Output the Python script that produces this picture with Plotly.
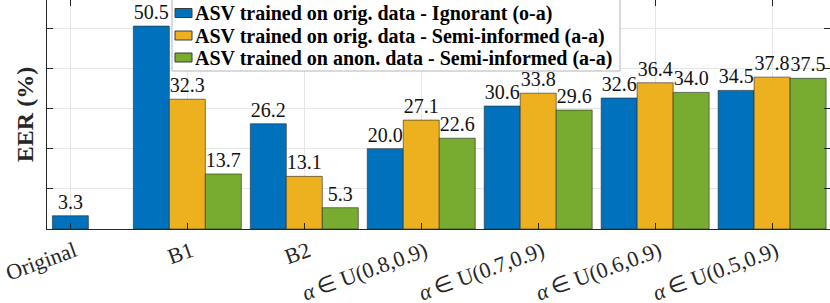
import plotly.graph_objects as go

categories = ["Original", "B1", "B2", "U(0.8,0.9)", "U(0.7,0.9)", "U(0.6,0.9)", "U(0.5,0.9)"]
ALPHA_IN = "<i>α</i>\u2009∈ "
tick_labels = ["Original", "B1", "B2",
               ALPHA_IN + "U(0.8,0.9)", ALPHA_IN + "U(0.7,0.9)",
               ALPHA_IN + "U(0.6,0.9)", ALPHA_IN + "U(0.5,0.9)"]
series_names = ["ASV trained on orig. data - Ignorant (o-a)",
                "ASV trained on orig. data - Semi-informed (a-a)",
                "ASV trained on anon. data - Semi-informed (a-a)"]
ignorant_oa = [3.3, 50.5, 26.2, 20.0, 30.6, 32.6, 34.5]
semi_orig_aa = [None, 32.3, 13.1, 27.1, 33.8, 36.4, 37.8]
semi_anon_aa = [None, 13.7, 5.3, 22.6, 29.6, 34.0, 37.5]
colors = ["#0072BD", "#EDB120", "#77AC30"]

SERIF = "Liberation Serif"
W = 0.3077
x_idx = list(range(len(categories)))
# blue bar is centred when it is the only one in its group
blue_offsets = [-0.5 * W if (semi_orig_aa[i] is None and semi_anon_aa[i] is None) else -1.5 * W
                for i in x_idx]
offsets = [blue_offsets, -0.5 * W, 0.5 * W]
EDGE = "rgba(40,40,40,0.6)"

fig = go.Figure()
for name, vals, col, off in zip(series_names, [ignorant_oa, semi_orig_aa, semi_anon_aa], colors, offsets):
    fig.add_trace(go.Bar(
        x=x_idx, y=vals, name=name, width=W, offset=off,
        marker=dict(color=col, line=dict(color=EDGE, width=1)),
        texttemplate="%{y:.1f}", textposition="outside", constraintext="none",
        textfont=dict(family=SERIF, size=20, color="#111"),
        cliponaxis=False, showlegend=False,
    ))

# legend box drawn in plot-area (paper) coordinates
PW, PH, L = 783.0, 229.0, 47.0
def px(xp):
    return (xp - L) / PW
def py(yp):
    return (PH - yp) / PH

fig.add_shape(type="rect", xref="paper", yref="paper", layer="above",
              x0=px(172), x1=px(620), y0=py(71), y1=py(-0.5),
              fillcolor="white", line=dict(color="#b4b4b4", width=1))
row_centers = [13, 35.5, 57.5]
for name, col, yc in zip(series_names, colors, row_centers):
    fig.add_shape(type="rect", xref="paper", yref="paper", layer="above",
                  x0=px(175), x1=px(192), y0=py(yc + 4.5), y1=py(yc - 4.5),
                  fillcolor=col, line=dict(color="#3a3a3a", width=1))
    fig.add_annotation(xref="paper", yref="paper", x=px(193), y=py(yc + 0.5),
                       xanchor="left", yanchor="middle", showarrow=False,
                       text="<b>" + name + "</b>",
                       font=dict(family=SERIF, size=20, color="#000"))

fig.update_layout(
    width=830, height=303,
    margin=dict(l=47, r=0, t=0, b=74),
    barmode="overlay",
    plot_bgcolor="white", paper_bgcolor="white",
    font=dict(family=SERIF, color="#262626"),
    showlegend=False,
)
fig.update_xaxes(
    tickmode="array", tickvals=x_idx, ticktext=tick_labels, tickangle=-20,
    ticklabelshift=4,
    range=[-0.2, 6.495], automargin=False, ticklabeloverflow="allow",
    showgrid=True, gridcolor="#e6e6e6", gridwidth=1,
    ticks="inside", ticklen=6, tickcolor="#262626",
    showline=True, linecolor="#262626", linewidth=1, mirror="ticks",
    tickfont=dict(family=SERIF, size=22, color="#262626"),
    zeroline=False,
)
fig.update_yaxes(
    range=[0, 57], dtick=10, tick0=0, automargin=False,
    showticklabels=False,
    showgrid=True, gridcolor="#e6e6e6", gridwidth=1,
    ticks="inside", ticklen=6, tickcolor="#262626",
    showline=True, linecolor="#262626", linewidth=1, mirror="ticks",
    zeroline=False,
    title=dict(text="<b>EER (%)</b>", standoff=5,
               font=dict(family=SERIF, size=24, color="#262626")),
)

fig.write_html("out.html", config={"displayModeBar": False},
               post_script="document.body.style.margin='0';")
